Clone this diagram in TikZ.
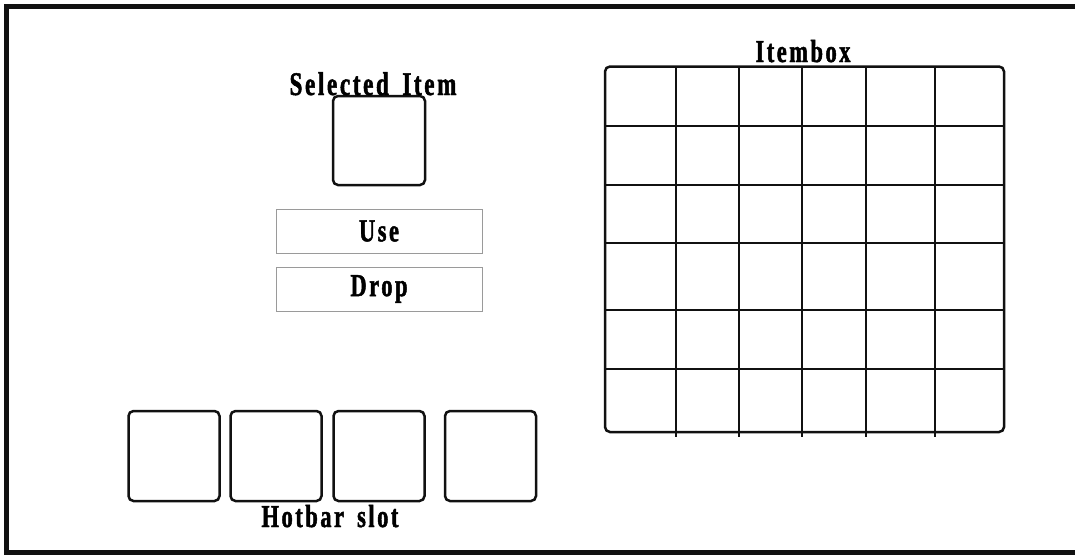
\documentclass[tikz,border=0pt]{standalone}
\usepackage{fontspec}
\usepackage{xcolor}
\usepackage{tikz}
\usetikzlibrary{positioning}
\newfontfamily\uifont{Liberation Serif}[UprightFont={* Bold}, FakeStretch=0.7, LetterSpace=8, FakeBold=1.5, WordSpace=1.6]
\definecolor{ink}{HTML}{111111}
\definecolor{btnline}{HTML}{9A9A9A}
\tikzset{
  slot/.style={draw=ink, line width=2.5pt, rounded corners=5pt, inner sep=0pt,
               minimum width=91pt, minimum height=90pt},
  btn/.style={draw=btnline, line width=1pt, inner sep=0pt, minimum width=206pt,
              minimum height=44pt, font=\uifont\fontsize{32}{34}\selectfont},
  lbl/.style={font=\uifont\fontsize{32}{34}\selectfont, inner sep=0pt, anchor=base},
  gridline/.style={draw=ink, line width=2pt}
}

\begin{document}
\begin{tikzpicture}[x=1pt, y=-1pt]
  \useasboundingbox (0,0) rectangle (1075,554);
  \draw[ink, line width=5pt] (1090,6.5) -- (6,6.5) -- (6,552) -- (1090,552);

  \node[slot, minimum width=92pt, minimum height=89pt] (sel) at (379,140.5) {};
  \node[lbl, font=\uifont\fontsize{33}{34}\selectfont] (sellbl) at (373,95) {Selected Item};
  \node[btn] (use) at (379,231) {Use};
  \node[btn, below=13pt of use] (drop) {Drop};

  \node[slot] (hb1) at (174,456) {};
  \node[slot] (hb2) at (276,456) {};
  \node[slot] (hb3) at (379,456) {};
  \node[slot] (hb4) at (490.5,456) {};
  \node[lbl] (hblbl) at (330,527) {Hotbar slot};

  \node[draw=ink, line width=2.5pt, rounded corners=5pt, inner sep=0pt,
        minimum width=399pt, minimum height=365.5pt] (itembox) at (804.5,249.25) {};
  \node[lbl] (itemlbl) at (803,62) {Itembox};
  \foreach \gx in {676,739,802,866,935}
    \draw[gridline] (\gx,66.5) -- (\gx,437);
  \foreach \gy in {126,185,243,310,369}
    \draw[gridline] (605,\gy) -- (1004,\gy);
\end{tikzpicture}
\end{document}
